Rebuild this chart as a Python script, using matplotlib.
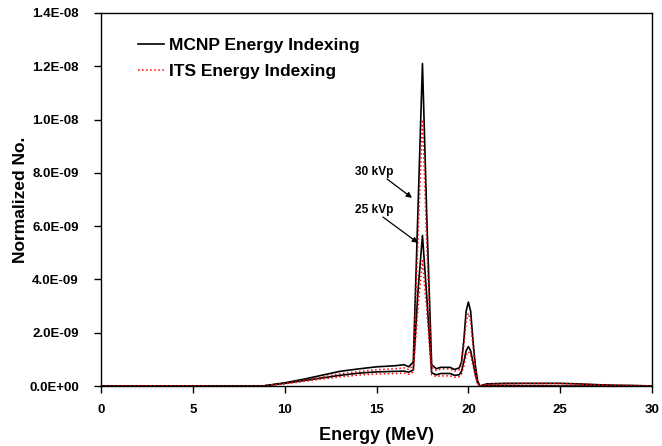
import numpy as np
import matplotlib.pyplot as plt
from matplotlib.ticker import FuncFormatter

plt.rcParams['font.family'] = ['Liberation Sans', 'DejaVu Sans']
plt.rcParams['font.weight'] = 'bold'

# energy grid (MeV)
energy = [0, 8, 8.8, 10, 11, 12, 13, 14, 15, 16, 16.5, 16.75, 17.0, 17.25, 17.5,
          17.75, 18.0, 18.25, 18.5, 19.0, 19.25, 19.5, 19.625, 19.75, 19.875, 20.0,
          20.125, 20.25, 20.375, 20.5, 20.625,
          21, 22, 23, 24, 25, 26, 27, 28, 29, 30]

# spectra in units of 1e-9
mcnp_30 = [0, 0, 0.0, 0.12, 0.25, 0.40, 0.55, 0.64, 0.72, 0.76, 0.80, 0.72, 0.90, 6.5, 12.1,
           6.0, 0.80, 0.65, 0.70, 0.70, 0.62, 0.68, 0.90, 1.70, 2.80, 3.15,
           2.80, 1.70, 0.80, 0.20, 0.0,
           0.08, 0.10, 0.10, 0.10, 0.10, 0.08, 0.05, 0.03, 0.02, 0]
its_30 = [0, 0, 0.0, 0.10, 0.21, 0.33, 0.46, 0.54, 0.61, 0.65, 0.68, 0.62, 0.78, 5.4, 10.0,
          5.0, 0.70, 0.58, 0.64, 0.64, 0.56, 0.60, 0.80, 1.50, 2.40, 2.73,
          2.40, 1.50, 0.70, 0.18, 0.0,
          0.07, 0.09, 0.09, 0.09, 0.09, 0.07, 0.05, 0.03, 0.02, 0]
mcnp_25 = [0, 0, 0.0, 0.10, 0.20, 0.30, 0.40, 0.48, 0.53, 0.55, 0.56, 0.52, 0.60, 3.5, 5.65,
           3.2, 0.50, 0.42, 0.47, 0.47, 0.40, 0.42, 0.55, 0.90, 1.32, 1.48,
           1.32, 0.90, 0.45, 0.12, 0.0,
           0.02, 0.02, 0.01, 0.01, 0.0, 0, 0, 0, 0, 0]
its_25 = [0, 0, 0.0, 0.08, 0.17, 0.26, 0.34, 0.41, 0.45, 0.47, 0.48, 0.44, 0.52, 2.9, 4.7,
          2.7, 0.42, 0.36, 0.38, 0.38, 0.33, 0.35, 0.45, 0.75, 1.15, 1.29,
          1.15, 0.75, 0.38, 0.10, 0.0,
          0.02, 0.02, 0.01, 0.01, 0.0, 0, 0, 0, 0, 0]

scale = 1e-9
E = np.array(energy)

fig = plt.figure(figsize=(6.62, 4.46), dpi=100)
ax = fig.add_axes([0.1526, 0.1345, 0.8324, 0.8365])

ax.plot(E, np.array(mcnp_30) * scale, color='black', lw=1.2, label='MCNP Energy Indexing')
ax.plot(E, np.array(mcnp_25) * scale, color='black', lw=1.2)
ax.plot(E, np.array(its_30) * scale, color='red', lw=1.1, ls=':', label='ITS Energy Indexing')
ax.plot(E, np.array(its_25) * scale, color='red', lw=1.1, ls=':')

# peak labels with arrows
arrow = dict(arrowstyle='-|>', color='black', lw=0.9, shrinkA=0, shrinkB=0, mutation_scale=8)
ax.text(14.86, 8.03e-9, '30 kVp', ha='center', va='center', fontsize=8.6, fontweight='bold')
ax.annotate('', xy=(16.93, 7.06e-9), xytext=(15.57, 7.77e-9), arrowprops=arrow)
ax.text(14.9, 6.6e-9, '25 kVp', ha='center', va='center', fontsize=8.6, fontweight='bold')
ax.annotate('', xy=(17.26, 5.37e-9), xytext=(15.35, 6.34e-9), arrowprops=arrow)

ax.set_xlim(0, 30)
ax.set_ylim(0, 1.4e-8)
ax.set_xticks(np.arange(0, 31, 5))
ax.set_yticks(np.arange(0, 1.41e-8, 2e-9))
ax.yaxis.set_major_formatter(FuncFormatter(lambda v, p: f'{v:.1E}'))
ax.tick_params(direction='out', length=5, width=1, labelsize=9.5, top=False, right=False)
ax.tick_params(axis='y', pad=11)
ax.tick_params(axis='x', pad=8)
for lab in ax.get_xticklabels() + ax.get_yticklabels():
    lab.set_fontweight('bold')
for s in ax.spines.values():
    s.set_linewidth(1.0)

ax.set_xlabel('Energy (MeV)', fontsize=13, fontweight='bold', labelpad=8)
ax.set_ylabel('Normalized No.', fontsize=12.5, fontweight='bold', labelpad=1)

leg = ax.legend(loc='upper left', bbox_to_anchor=(0.038, 0.975), frameon=False,
                prop={'size': 12.5, 'weight': 'bold'}, handlelength=1.5,
                handletextpad=0.3, labelspacing=0.65)

fig.savefig('out.png', dpi=100)
